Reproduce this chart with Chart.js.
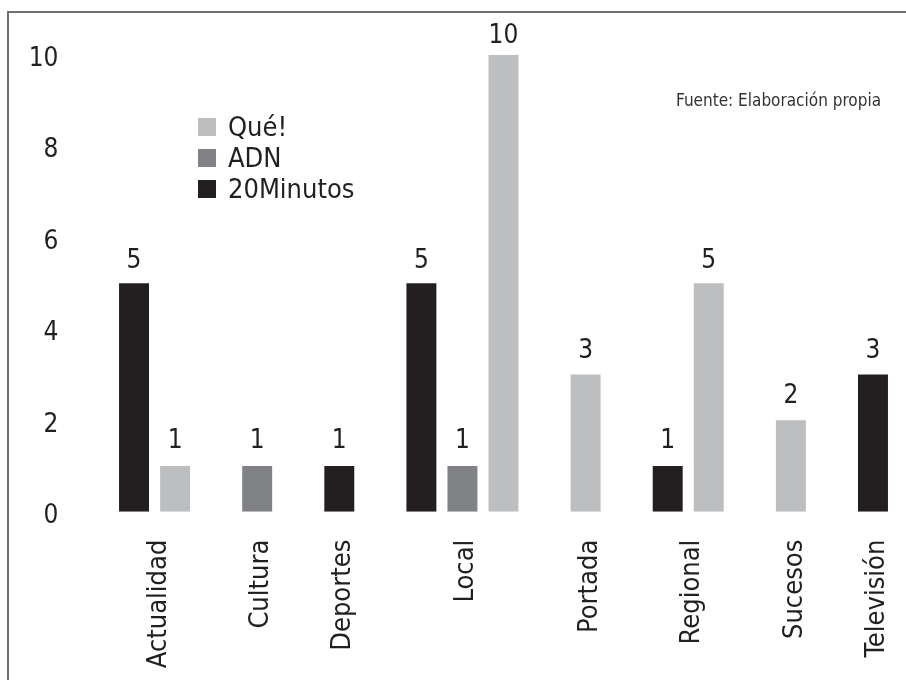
<!DOCTYPE html>
<html>
<head>
<meta charset="utf-8">
<script src="https://cdn.jsdelivr.net/npm/chart.js@4.4.1/dist/chart.umd.min.js"></script>
<style>
  html, body { margin: 0; padding: 0; background: #ffffff; }
  #wrap { position: relative; width: 906px; height: 680px; overflow: hidden; }
  #wrap canvas { position: absolute; left: 0; top: 0; }
  #frame { position: absolute; left: 7px; top: 11px; right: -4px; bottom: -4px;
           border-left: 2px solid #6d6e71; border-top: 2px solid #6d6e71; pointer-events: none; }
</style>
</head>
<body>
<div id="wrap">
  <canvas id="chart" width="906" height="680"></canvas>
  <div id="frame"></div>
</div>
<script>
// Topics and the number of items per newspaper
const categories = ['Actualidad', 'Cultura', 'Deportes', 'Local', 'Portada', 'Regional', 'Sucesos', 'Televisión'];
const seriesNames = ['20Minutos', 'ADN', 'Qué!'];
const minutos20 = [5, null, 1, 5, null, 1, null, 3];
const adn       = [null, 1, null, 1, null, null, null, null];
const que       = [1, null, null, 10, 3, 5, 2, null];
const yTicks    = [0, 2, 4, 6, 8, 10];
const sourceNote = 'Fuente: Elaboración propia';

const seriesColors = ['#231f20', '#808285', '#bcbec0'];
const FONT = '"DejaVu Sans Condensed", "Liberation Sans Narrow", sans-serif';
const INK = '#231f20';

// Only topics with a value get a bar; bars of one topic sit side by side,
// with one empty slot between topics.
const seriesValues = [minutos20, adn, que];
const points = seriesValues.map(() => []);
const groupCenters = [];
let slot = 0;
categories.forEach((cat, i) => {
  const first = slot;
  seriesValues.forEach((vals, s) => {
    if (vals[i] !== null) { points[s].push({ x: slot, y: vals[i] }); slot++; }
  });
  groupCenters.push((first + slot - 1) / 2);
  slot++;
});
const lastSlot = slot - 2;

// Value written above each bar
const valueLabels = {
  id: 'valueLabels',
  afterDatasetsDraw(chart) {
    const ctx = chart.ctx;
    ctx.save();
    ctx.font = '26px ' + FONT;
    ctx.fillStyle = INK;
    ctx.textAlign = 'center';
    ctx.textBaseline = 'middle';
    chart.data.datasets.forEach((ds, di) => {
      chart.getDatasetMeta(di).data.forEach((bar, i) => {
        const v = ds.data[i].y;
        ctx.fillText(String(v), bar.x, bar.y - (25.5 - 0.7 * v));
      });
    });
    ctx.restore();
  }
};

// Legend inside the plot plus the source note
const innerLegend = {
  id: 'innerLegend',
  afterDraw(chart, args, opts) {
    const ctx = chart.ctx;
    ctx.save();
    const items = chart.data.datasets.map((ds) => ({ label: ds.label, color: ds.backgroundColor })).reverse();
    ctx.font = opts.fontSize + 'px ' + FONT;
    ctx.textAlign = 'left';
    ctx.textBaseline = 'alphabetic';
    items.forEach((it, k) => {
      const top = opts.y + k * opts.spacing;
      ctx.fillStyle = it.color;
      ctx.fillRect(opts.x, top, opts.box, opts.box);
      ctx.fillStyle = INK;
      ctx.fillText(it.label, opts.x + opts.box + opts.gap, top + opts.box);
    });
    ctx.font = '17px ' + FONT;
    ctx.textAlign = 'right';
    ctx.fillStyle = '#333333';
    ctx.fillText(sourceNote, opts.noteX, opts.noteY);
    ctx.restore();
  }
};

new Chart(document.getElementById('chart'), {
  type: 'bar',
  data: {
    datasets: seriesNames.map((name, s) => ({
      label: name,
      data: points[s],
      backgroundColor: seriesColors[s],
      borderWidth: 0,
      grouped: false,
      categoryPercentage: 1.0,
      barPercentage: 0.73
    }))
  },
  options: {
    responsive: false,
    animation: false,
    layout: { padding: { left: 13.5, top: 54.7, right: 12.5, bottom: 0 } },
    plugins: {
      legend: { display: false },
      tooltip: { enabled: false },
      innerLegend: { x: 198, y: 118, box: 18, spacing: 31, gap: 12, fontSize: 27, noteX: 881, noteY: 106 }
    },
    scales: {
      x: {
        type: 'linear',
        min: -0.5,
        max: lastSlot + 0.5,
        offset: false,
        grid: { display: false, drawTicks: false },
        border: { display: false },
        afterBuildTicks: (scale) => { scale.ticks = groupCenters.map(v => ({ value: v })); },
        afterFit: (scale) => {
          scale.height = 168.3;
          scale.paddingLeft = 0;
          scale.paddingRight = 0;
        },
        ticks: {
          autoSkip: false,
          minRotation: 90,
          maxRotation: 90,
          padding: 28,
          labelOffset: 4,
          color: INK,
          font: { family: FONT, size: 27 },
          callback: (value, index) => categories[index]
        }
      },
      y: {
        min: yTicks[0],
        max: yTicks[yTicks.length - 1],
        grid: { display: false, drawTicks: false },
        border: { display: false },
        afterBuildTicks: (scale) => { scale.ticks = yTicks.map(v => ({ value: v })); },
        afterFit: (scale) => {
          scale.width = 100;
          scale.paddingTop = 0;
          scale.paddingBottom = 0;
        },
        ticks: {
          padding: 55,
          labelOffset: 4.5,
          color: INK,
          font: { family: FONT, size: 26 }
        }
      }
    }
  },
  plugins: [valueLabels, innerLegend]
});
</script>
</body>
</html>
